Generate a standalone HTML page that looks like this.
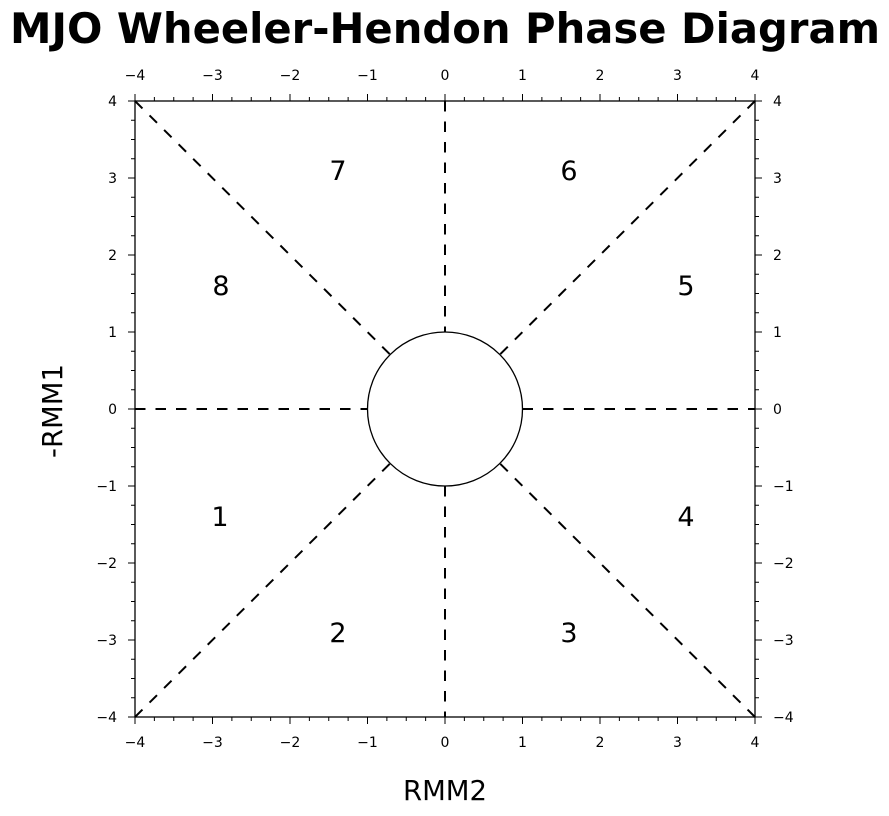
<!DOCTYPE html>
<html><head><meta charset="utf-8"><style>
body{margin:0;background:#fff;}
svg{display:block;font-family:"DejaVu Sans","Liberation Sans",sans-serif;}
</style></head><body>
<svg id="s" width="889" height="816" viewBox="0 0 889 816" xmlns="http://www.w3.org/2000/svg">
<rect width="889" height="816" fill="#fff"/>
<text x="445" y="43" font-size="41.7" font-weight="bold" text-anchor="middle">MJO Wheeler-Hendon Phase Diagram</text>
<g stroke="#000" stroke-width="2" stroke-dasharray="10.5,10" fill="none">
<line x1="135" y1="409" x2="367.5" y2="409"/>
<line x1="522.5" y1="409" x2="755" y2="409"/>
<line x1="445" y1="101" x2="445" y2="332"/>
<line x1="445" y1="486" x2="445" y2="717"/>
<line x1="135" y1="101" x2="390.2" y2="354.6"/>
<line x1="755" y1="101" x2="499.8" y2="354.6"/>
<line x1="135" y1="717" x2="390.2" y2="463.4"/>
<line x1="755" y1="717" x2="499.8" y2="463.4"/>
</g>
<ellipse cx="445" cy="409" rx="77.5" ry="77" fill="#fff" stroke="#000" stroke-width="1.3"/>
<rect x="135" y="101" width="620" height="616" fill="none" stroke="#000" stroke-width="1.3"/>
<g id="ticks" stroke="#000" stroke-width="1"></g>
<g font-size="14" text-anchor="middle">
<text x="135" y="80">−4</text><text x="212.5" y="80">−3</text><text x="290" y="80">−2</text><text x="367.5" y="80">−1</text><text x="445" y="80">0</text><text x="522.5" y="80">1</text><text x="600" y="80">2</text><text x="677.5" y="80">3</text><text x="755" y="80">4</text>
<text x="135" y="747">−4</text><text x="212.5" y="747">−3</text><text x="290" y="747">−2</text><text x="367.5" y="747">−1</text><text x="445" y="747">0</text><text x="522.5" y="747">1</text><text x="600" y="747">2</text><text x="677.5" y="747">3</text><text x="755" y="747">4</text>
</g>
<g font-size="14" text-anchor="end">
<text x="117" y="106">4</text><text x="117" y="183">3</text><text x="117" y="260">2</text><text x="117" y="337">1</text><text x="117" y="414">0</text><text x="117" y="491">−1</text><text x="117" y="568">−2</text><text x="117" y="645">−3</text><text x="117" y="722">−4</text>
</g>
<g font-size="14" text-anchor="start">
<text x="773" y="106">4</text><text x="773" y="183">3</text><text x="773" y="260">2</text><text x="773" y="337">1</text><text x="773" y="414">0</text><text x="773" y="491">−1</text><text x="773" y="568">−2</text><text x="773" y="645">−3</text><text x="773" y="722">−4</text>
</g>
<g font-size="27" text-anchor="middle">
<text x="338" y="180">7</text><text x="569" y="180">6</text>
<text x="221" y="295">8</text><text x="686" y="295">5</text>
<text x="220" y="526">1</text><text x="686" y="526">4</text>
<text x="338" y="642">2</text><text x="569" y="642">3</text>
</g>
<text x="445" y="800" font-size="27.5" text-anchor="middle">RMM2</text>
<text transform="translate(62,411) rotate(-90)" font-size="27.5" text-anchor="middle">-RMM1</text>
</svg>
<script>
var g=document.getElementById('ticks'),d='';
for(var i=0;i<=32;i++){
 var maj=i%4==0,L=maj?7:4;
 var x=135+i*19.375,y=101+i*19.25;
 d+='M'+x+' 101V'+(101-L)+'M'+x+' 717V'+(717+L)+'M135 '+y+'H'+(135-L)+'M755 '+y+'H'+(755+L);
}
var p=document.createElementNS('http://www.w3.org/2000/svg','path');
p.setAttribute('d',d);g.appendChild(p);
</script>
</body></html>
